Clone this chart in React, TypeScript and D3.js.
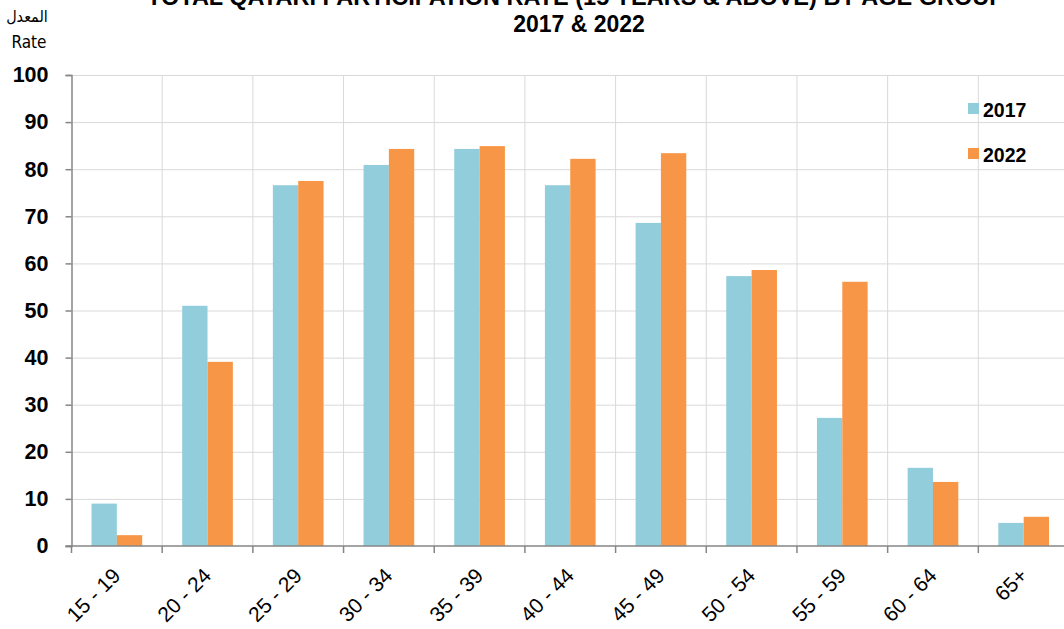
import { useEffect, useRef } from 'react'
import * as d3 from 'd3'

const ageGroups = ['15 - 19', '20 - 24', '25 - 29', '30 - 34', '35 - 39', '40 - 44', '45 - 49', '50 - 54', '55 - 59', '60 - 64', '65+']
const rate2017 = [9.0, 51.0, 76.6, 80.9, 84.3, 76.6, 68.6, 57.3, 27.2, 16.6, 4.9]
const rate2022 = [2.3, 39.1, 77.5, 84.3, 84.9, 82.2, 83.4, 58.6, 56.1, 13.6, 6.2]
const seriesNames = ['2017', '2022']
const yTicks = [0, 10, 20, 30, 40, 50, 60, 70, 80, 90, 100]

const WIDTH = 1064
const HEIGHT = 629

export default function App() {
  const svgRef = useRef<SVGSVGElement>(null)

  useEffect(() => {
    if (!svgRef.current) return
    const svg = d3.select(svgRef.current)
    svg.selectAll('*').remove()

    const left = 71.5
    const right = 1069
    const top = 75
    const bottom = 546

    const x = d3.scaleBand<string>().domain(ageGroups).range([left, right]).paddingInner(0).paddingOuter(0)
    const y = d3.scaleLinear().domain([0, 100]).range([bottom, top])
    const groupPad = 20
    const x1 = d3.scaleBand<string>().domain(seriesNames)
      .range([groupPad, x.bandwidth() - groupPad]).padding(0)
    const color = d3.scaleOrdinal<string, string>().domain(seriesNames).range(['#92CDDC', '#F79646'])

    const font = 'Arial, "Liberation Sans", sans-serif'

    // gridlines
    const grid = svg.append('g')
    grid.selectAll('.h').data(yTicks.filter(t => t > 0)).enter().append('line')
      .attr('x1', left).attr('x2', right)
      .attr('y1', d => y(d) + 0.5).attr('y2', d => y(d) + 0.5)
      .attr('stroke', '#d9d9d9').attr('stroke-width', 1)
    grid.selectAll('.v').data(ageGroups.slice(1)).enter().append('line')
      .attr('x1', d => x(d)!).attr('x2', d => x(d)!)
      .attr('y1', top).attr('y2', bottom)
      .attr('stroke', '#d9d9d9').attr('stroke-width', 1)

    // bars
    const data = ageGroups.map((g, i) => ({ group: g, values: [rate2017[i], rate2022[i]] }))
    const groups = svg.selectAll('.grp').data(data).enter().append('g')
      .attr('transform', d => `translate(${x(d.group)},0)`)
    groups.selectAll('rect')
      .data(d => d.values.map((v, i) => ({ key: seriesNames[i], v })))
      .enter().append('rect')
      .attr('x', d => x1(d.key)!)
      .attr('width', x1.bandwidth())
      .attr('y', d => y(d.v))
      .attr('height', d => y(0) - y(d.v))
      .attr('fill', d => color(d.key))

    // axes
    const yAxis = svg.append('g').attr('transform', `translate(${left},0)`)
      .call(d3.axisLeft(y).tickValues(yTicks).tickSize(6).tickPadding(17))
    yAxis.select('.domain').attr('stroke', '#868686').attr('stroke-width', 1.5)
    yAxis.selectAll('.tick line').attr('stroke', '#868686').attr('stroke-width', 1.5)
    yAxis.selectAll('.tick text')
      .attr('font-family', font).attr('font-size', 21.5).attr('font-weight', 'bold').attr('fill', '#000')

    const xAxis = svg.append('g').attr('transform', `translate(0,${bottom})`)
    xAxis.append('line').attr('x1', left - 6).attr('x2', right)
      .attr('y1', 0).attr('y2', 0).attr('stroke', '#868686').attr('stroke-width', 1.5)
    xAxis.selectAll('.xt').data(ageGroups).enter().append('line')
      .attr('x1', d => x(d)!).attr('x2', d => x(d)!)
      .attr('y1', 0).attr('y2', 7).attr('stroke', '#868686').attr('stroke-width', 1.5)
    xAxis.selectAll('.xl').data(ageGroups).enter().append('text')
      .attr('transform', d => `translate(${x(d)! + x.bandwidth() / 2 + 5},${31}) rotate(-45)`)
      .attr('text-anchor', 'end')
      .attr('font-family', font).attr('font-size', 21).attr('fill', '#000')
      .text(d => d)

    // title
    svg.append('text').attr('x', 576).attr('y', 5).attr('text-anchor', 'middle')
      .attr('font-family', font).attr('font-size', 23.5).attr('font-weight', 'bold')
      .text('TOTAL QATARI PARTICIPATION RATE (15 YEARS & ABOVE) BY AGE GROUP')
    svg.append('text').attr('x', 579).attr('y', 32).attr('text-anchor', 'middle')
      .attr('font-family', font).attr('font-size', 23).attr('font-weight', 'bold')
      .text('2017 & 2022')

    // y label
    svg.append('text').attr('x', 27).attr('y', 22).attr('text-anchor', 'middle')
      .attr('font-family', '"Liberation Sans Narrow", "DejaVu Sans Condensed", Arial, sans-serif')
      .attr('font-size', 16).text('المعدل')
    svg.append('text').attr('x', 29).attr('y', 48).attr('text-anchor', 'middle')
      .attr('font-family', '"Liberation Sans Narrow", "DejaVu Sans Condensed", Arial, sans-serif')
      .attr('font-size', 17).text('Rate')

    // legend
    const legend = svg.append('g').attr('transform', 'translate(968,103)')
    const items = legend.selectAll('.li').data(seriesNames).enter().append('g')
      .attr('transform', (d, i) => `translate(0,${i * 45})`)
    items.append('rect').attr('width', 11).attr('height', 11).attr('fill', d => color(d))
    items.append('text').attr('x', 15).attr('y', 14)
      .attr('font-family', font).attr('font-size', 19.5).attr('font-weight', 'bold')
      .text(d => d)
  }, [])

  return (
    <svg ref={svgRef} width={WIDTH} height={HEIGHT}
      style={{ position: 'absolute', left: 0, top: 0, background: '#fff' }} />
  )
}
